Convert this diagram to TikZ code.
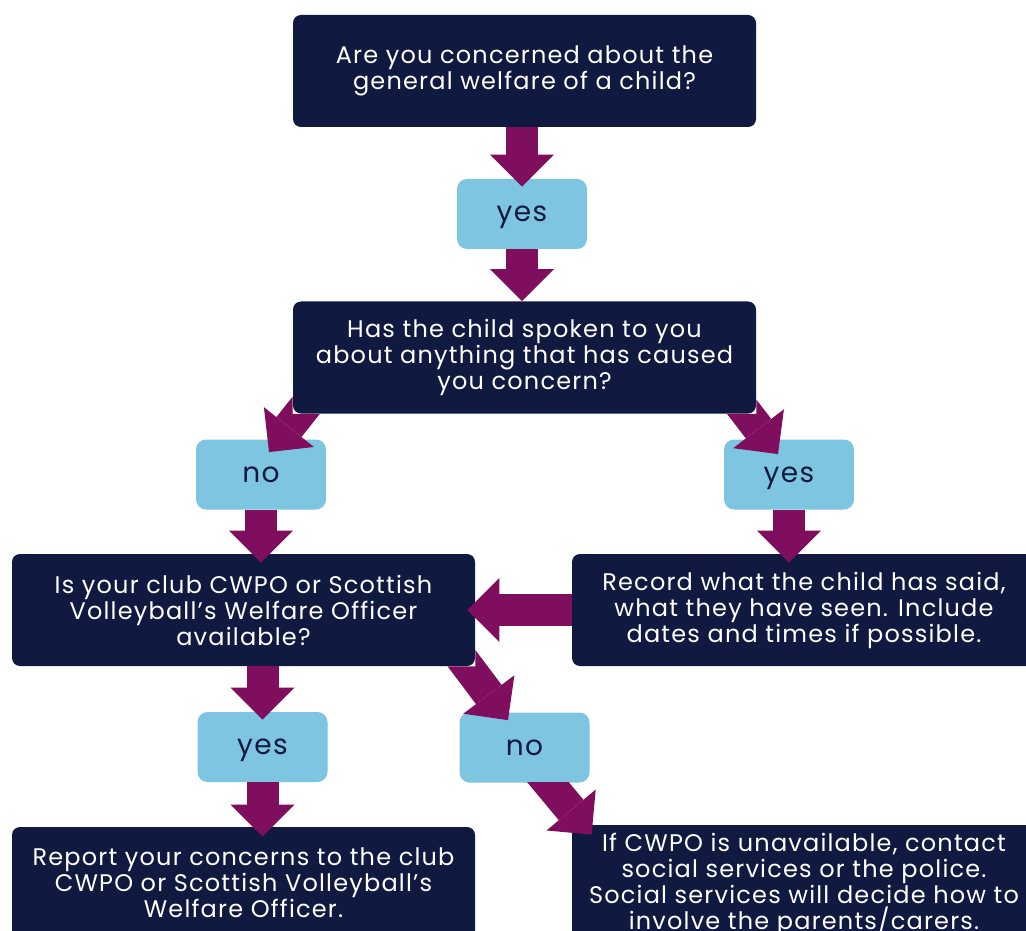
\documentclass[tikz,border=0pt]{standalone}
\usepackage{fontspec}
\setmainfont{Poppins}[LetterSpace=5]
\usetikzlibrary{arrows.meta}
\definecolor{navy}{HTML}{101A40}
\definecolor{sky}{HTML}{7EC5E1}
\definecolor{plum}{HTML}{7F0F5E}
\begin{document}
\begin{tikzpicture}[x=0.5pt, y=-0.5pt,
  question/.style={fill=navy, text=white, rounded corners=4pt, align=center,
    minimum width=231.5pt, minimum height=56pt, inner sep=0pt,
    font=\fontsize{12}{13}\selectfont},
  answer/.style={fill=sky, text=navy, rounded corners=5pt,
    minimum width=65pt, minimum height=35pt, inner sep=0pt,
    text height=7.7pt, text depth=0pt, font=\fontsize{14}{14}\selectfont},
  flow/.style={plum, line width=16pt,
    -{Triangle[length=16pt, width=32pt, line width=0pt]}}]
  \useasboundingbox (0,0) rectangle (1026,930);

  \node [question] (q1) at (524.5,71) {Are you concerned about the\\general welfare of a child?};
  \node [answer]   (yes1) at (522,214) {yes};
  \node [question] (q2) at (524.5,357.5) {Has the child spoken to you\\about anything that has caused\\you concern?};
  \node [answer]   (no1) at (261,474.5) {no};
  \node [answer]   (yes2) at (789,474.5) {yes};
  \node [question] (q3) at (243.5,610) {Is your club CWPO or Scottish\\Volleyball’s Welfare Officer\\available?};
  \node [question, minimum width=232pt] (record) at (804,610) {Record what the child has said,\\what they have seen. Include\\dates and times if possible.};
  \node [answer]   (yes3) at (262.5,747) {yes};
  \node [answer]   (no2) at (524.5,747.5) {no};
  \node [question] (report) at (243.5,883) {Report your concerns to the club\\CWPO or Scottish Volleyball’s\\Welfare Officer.};
  \node [question, minimum width=232pt, minimum height=59pt] (contact) at (804,884) {If CWPO is unavailable, contact\\social services or the police.\\Social services will decide how to\\involve the parents/carers.};

  \draw [flow] (q1.south -| yes1) -- ([yshift=-4pt]yes1.north);
  \draw [flow] (yes1.south) -- (q2.north -| yes1);
  \draw [flow] (no1.south) -- ([yshift=-4.5pt]q3.north -| no1);
  \draw [flow] (yes2.south) -- ([yshift=-4.5pt]record.north -| yes2);
  \draw [flow] (record.west) -- ([xshift=-4pt]q3.east);
  \draw [flow] (q3.south -| yes3) -- ([yshift=-4pt]yes3.north);
  \draw [flow] (yes3.south) -- ([yshift=-5pt]report.north -| yes3);

  \begin{scope}
    \clip (0,0) -| (q2.south west) -| (1026,930) -- (0,930) -- cycle;
    \draw [flow] ([shift={(16.5pt,16.5pt)}]q2.south west) -- ([shift={(4pt,-6.5pt)}]no1.north);
  \end{scope}
  \begin{scope}
    \clip (1026,0) -| (q2.south east) -| (0,930) -- (1026,930) -- cycle;
    \draw [flow] ([shift={(-16.5pt,15.5pt)}]q2.south east) -- ([shift={(-5.5pt,-7.5pt)}]yes2.north);
  \end{scope}
  \begin{scope}
    \clip (1026,0) -| (q3.south east) -| (0,930) -- (1026,930) -- cycle;
    \draw [flow] ([shift={(-11pt,9.5pt)}]q3.south east) -- ([shift={(-8.25pt,-4pt)}]no2.north);
  \end{scope}
  \begin{scope}
    \clip (no2.south -| 0,0) rectangle (1026,930);
    \draw [flow] ([shift={(4.75pt,8.75pt)}]no2.south) -- ([shift={(10pt,-5pt)}]contact.north west);
  \end{scope}
\end{tikzpicture}
\end{document}
